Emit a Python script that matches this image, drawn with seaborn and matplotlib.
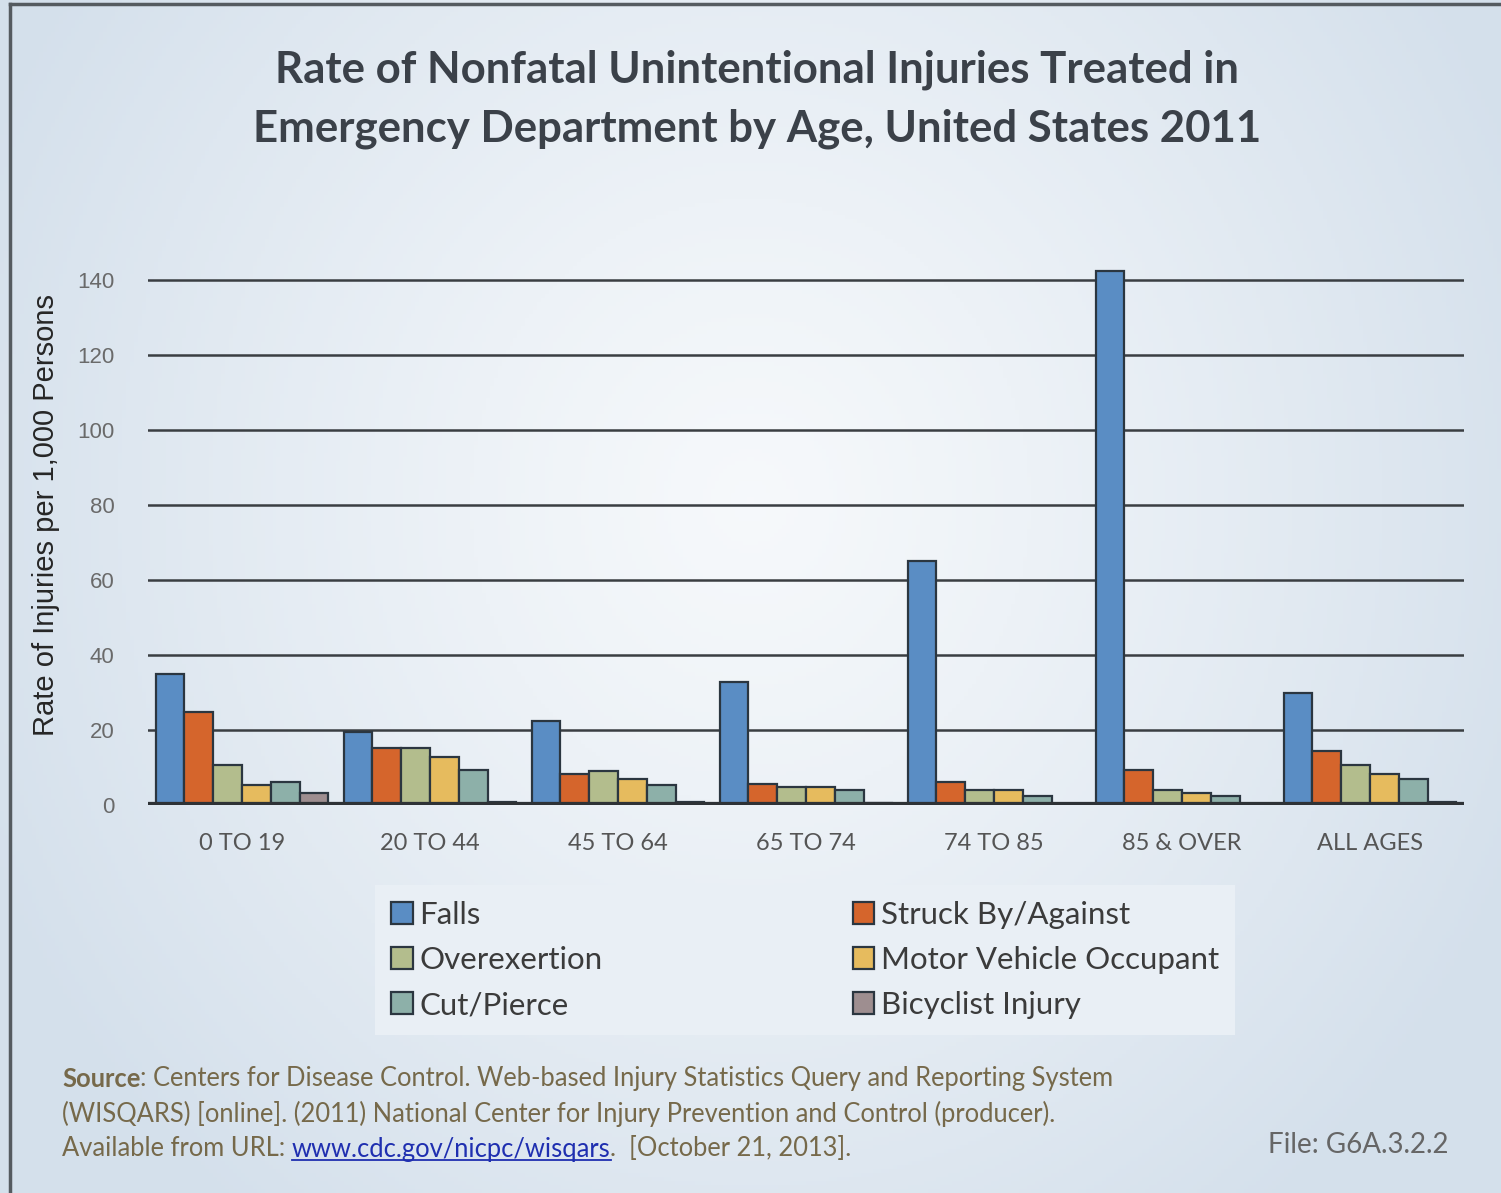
import numpy as np
import pandas as pd
import matplotlib
matplotlib.use("Agg")
import matplotlib.pyplot as plt
import seaborn as sns
from matplotlib.lines import Line2D

# ---------------- data ----------------
age_groups = ["0 TO 19", "20 TO 44", "45 TO 64", "65 TO 74", "74 TO 85", "85 & OVER", "ALL AGES"]
causes = ["Falls", "Struck By/Against", "Overexertion", "Motor Vehicle Occupant", "Cut/Pierce", "Bicyclist Injury"]

falls = [34.9, 19.4, 22.4, 32.7, 65.0, 142.4, 29.8]
struck = [24.8, 15.1, 8.4, 5.5, 6.2, 9.3, 14.4]
overexertion = [10.7, 15.1, 9.2, 4.7, 4.0, 4.0, 10.7]
motor_vehicle = [5.3, 12.9, 6.9, 4.7, 4.0, 3.1, 8.3]
cut_pierce = [6.2, 9.3, 5.3, 4.0, 2.5, 2.5, 6.9]
bicyclist = [3.3, 0.9, 0.9, 0.5, 0.3, 0.3, 0.9]

y_ticks = [0, 20, 40, 60, 80, 100, 120, 140]

title_text = "Rate of Nonfatal Unintentional Injuries Treated in\nEmergency Department by Age, United States 2011"
y_label = "Rate of Injuries per 1,000 Persons"
source_bold = "Source"
source_line1 = ": Centers for Disease Control. Web-based Injury Statistics Query and Reporting System"
source_line2 = "(WISQARS) [online]. (2011) National Center for Injury Prevention and Control (producer)."
source_line3a = "Available from URL: "
source_link = "www.cdc.gov/nicpc/wisqars"
source_line3b = ".  [October 21, 2013]."
file_text = "File: G6A.3.2.2"

colors = ["#5a8dc4", "#d5652c", "#b3bd8d", "#e6bb5e", "#8db0a9", "#9e8e90"]

series = [falls, struck, overexertion, motor_vehicle, cut_pierce, bicyclist]
df = pd.DataFrame({
    "age": np.repeat(age_groups, len(causes)),
    "cause": causes * len(age_groups),
    "rate": [series[j][i] for i in range(len(age_groups)) for j in range(len(causes))],
})

# ---------------- figure ----------------
W, H = 1501, 1193
fig = plt.figure(figsize=(W / 100, H / 100), dpi=100)

# background gradient
bg = fig.add_axes([0, 0, 1, 1], zorder=-10)
yy, xx = np.mgrid[0:1:300j, 0:1:380j]
r = np.sqrt(((xx - 0.5) / 0.55) ** 2 + ((yy - 0.42) / 0.75) ** 2)
r = np.clip(r, 0, 1) ** 1.2
center = np.array([0.965, 0.975, 0.985])
edge = np.array([0.835, 0.88, 0.925])
img = center[None, None, :] * (1 - r[..., None]) + edge[None, None, :] * r[..., None]
bg.imshow(img, extent=[0, 1, 0, 1], aspect="auto", origin="upper")
bg.set_xlim(0, 1)
bg.set_ylim(0, 1)
bg.axis("off")
# frame (left & top dark)
bg.add_line(Line2D([10 / W, 10 / W], [0, 1 - 4 / H], color="#555b60", lw=2.5))
bg.add_line(Line2D([10 / W, 1], [1 - 4 / H, 1 - 4 / H], color="#555b60", lw=2.5))

# main axes
left = 148 / W
right = 1464 / W
y0 = 805
ymax = 145
ppu = (805 - 280) / 140
top = y0 - ymax * ppu
ax = fig.add_axes([left, (H - y0) / H, right - left, (y0 - top) / H])
ax.set_facecolor("none")

sns.barplot(data=df, x="age", y="rate", hue="cause", hue_order=causes, order=age_groups,
            palette=colors, width=0.92, gap=0, edgecolor="#2b3640", linewidth=1.6,
            saturation=1, ax=ax, errorbar=None, zorder=3)

ax.set_xlim(-0.5, len(age_groups) - 0.5)
ax.set_ylim(0, ymax)
for s in ax.spines.values():
    s.set_visible(False)
ax.set_yticks(y_ticks)
for t in y_ticks[1:]:
    ax.axhline(t, color="#3a3e42", lw=1.8, zorder=1)
ax.axhline(0, color="#2e3236", lw=4.5, zorder=4)
ax.tick_params(axis="both", length=0)
ax.tick_params(axis="y", pad=24, labelsize=16, labelcolor="#6a6a6a")
ax.tick_params(axis="x", pad=20, labelsize=17, labelcolor="#555555")
for lab in ax.get_yticklabels():
    lab.set_fontfamily("Liberation Sans")
for lab in ax.get_xticklabels():
    lab.set_fontfamily("Lato")
ax.set_xlabel("")
ax.set_ylabel(y_label, fontsize=21, fontfamily="Liberation Sans", color="#262626", labelpad=4)
ax.yaxis.set_label_coords(-(148 - 60) / (1464 - 148), (805 - 515) / (805 - top))

# legend
handles, labels = ax.get_legend_handles_labels()
ax.get_legend().remove()
order = [0, 2, 4, 1, 3, 5]
leg = fig.legend([handles[i] for i in order], [labels[i] for i in order],
                 ncol=2, loc="upper left", bbox_to_anchor=(375 / W, 1 - 885 / H),
                 frameon=True, fancybox=False, facecolor="#e9eff5", edgecolor="none",
                 framealpha=1, handlelength=0.7, handleheight=0.7, handletextpad=0.22,
                 columnspacing=8.0, labelspacing=0.55,
                 prop={"family": "Lato", "size": 22.5}, labelcolor="#3b3b3b",
                 borderpad=0.5, borderaxespad=0)
leg.get_frame().set_linewidth(0)

# title
fig.text(757 / W, 1 - 99 / H, title_text, ha="center", va="center", fontsize=31.5,
         fontweight="bold", fontfamily="Lato", color="#3b4149", linespacing=1.55)

# source
src_color = "#76694a"
fs = 18.4
t0 = fig.text(62 / W, 1 - 1079 / H, source_bold, fontsize=fs, fontweight="bold",
              fontfamily="Lato", color=src_color, va="center", ha="left")
ax.annotate(source_line1, xy=(1, 0), xycoords=t0, va="bottom", ha="left",
            fontsize=fs, fontfamily="Lato", color=src_color, annotation_clip=False)
fig.text(62 / W, 1 - 1114 / H, source_line2, fontsize=fs, fontfamily="Lato",
         color=src_color, va="center", ha="left")
t3 = fig.text(62 / W, 1 - 1149 / H, source_line3a, fontsize=fs, fontfamily="Lato",
              color=src_color, va="center", ha="left")
t_link = ax.annotate(source_link, xy=(1, 0), xycoords=t3, va="bottom", ha="left",
                     fontsize=fs, fontfamily="Lato", color="#1f2fb0", annotation_clip=False)
ax.annotate(source_line3b, xy=(1, 0), xycoords=t_link, va="bottom", ha="left",
            fontsize=fs, fontfamily="Lato", color=src_color, annotation_clip=False)
fig.text(1448 / W, 1 - 1145 / H, file_text, fontsize=20, fontfamily="Lato",
         color="#666666", va="center", ha="right")

# underline link
fig.canvas.draw()
bb = t_link.get_window_extent()
bg.add_line(Line2D([bb.x0 / W, bb.x1 / W], [(bb.y0 + 2) / H, (bb.y0 + 2) / H],
                   color="#1f2fb0", lw=1.3))

fig.savefig("out.png", dpi=100)
